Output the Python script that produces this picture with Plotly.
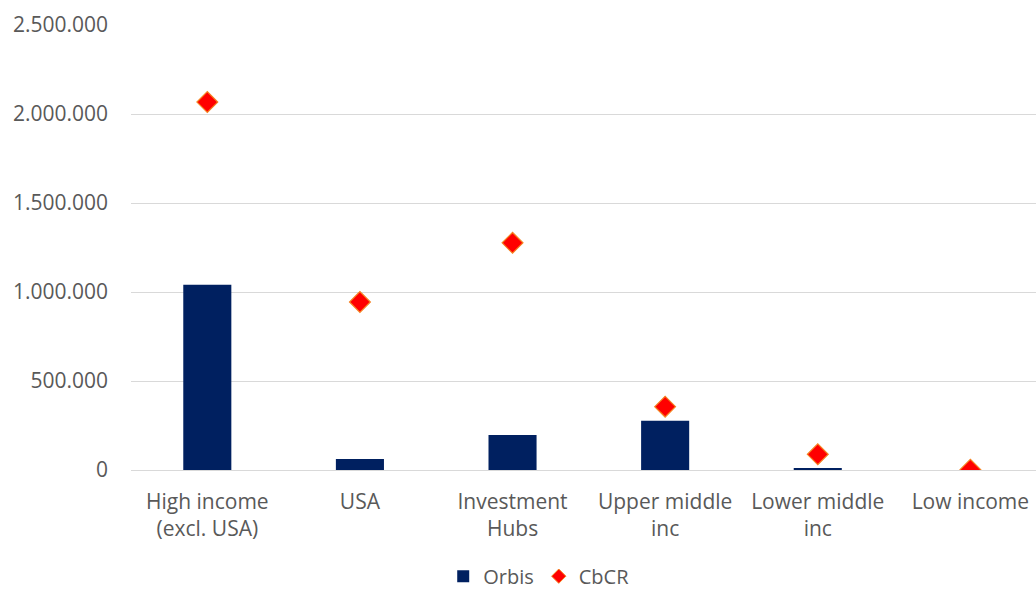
import plotly.graph_objects as go

categories = ["High income<br>(excl. USA)", "USA", "Investment<br>Hubs",
              "Upper middle<br>inc", "Lower middle<br>inc", "Low income"]
orbis = [1041000, 62000, 197000, 276000, 9000, 0]
cbcr = [2067000, 944000, 1276000, 356000, 88000, 1500]
y_ticks = [0, 500000, 1000000, 1500000, 2000000, 2500000]
y_tick_labels = ["0", "500.000", "1.000.000", "1.500.000", "2.000.000", "2.500.000"]

font = dict(family="Open Sans, Liberation Sans, sans-serif", size=21, color="#595959")
legend_font = dict(family="Open Sans, Liberation Sans, sans-serif", size=20, color="#595959")
x_pos = list(range(len(categories)))

fig = go.Figure()
fig.add_trace(go.Bar(
    x=x_pos, y=orbis, name="Orbis",
    marker=dict(color="#002060", line=dict(width=0)), width=0.315,
))
fig.add_trace(go.Scatter(
    x=x_pos, y=cbcr, name="CbCR", mode="markers", showlegend=False,
    marker=dict(symbol="diamond", size=16, color="#FF0000",
                line=dict(color="#F58220", width=1.2)),
))
# smaller diamond for the legend key
fig.add_trace(go.Scatter(
    x=[None], y=[None], name="CbCR", mode="markers",
    marker=dict(symbol="diamond", size=11, color="#FF0000",
                line=dict(color="#F58220", width=1)),
))

fig.update_layout(
    width=1036, height=594,
    margin=dict(l=131, r=0, t=25, b=124),
    paper_bgcolor="white", plot_bgcolor="white",
    font=font,
    showlegend=True,
    legend=dict(orientation="h", xref="container", x=0.52, xanchor="center",
                yref="container", y=0.03, yanchor="middle",
                font=legend_font, itemwidth=30, tracegroupgap=0),
)
fig.update_xaxes(
    tickmode="array", tickvals=x_pos, ticktext=categories,
    range=[-0.5, 5.43], showgrid=False, showline=False, zeroline=False,
    ticks="", ticklabelstandoff=17, tickfont=font,
)
fig.update_yaxes(
    range=[0, 2500000], tickmode="array", tickvals=y_ticks, ticktext=y_tick_labels,
    showgrid=True, gridcolor="#D9D9D9", gridwidth=1.3, zeroline=True,
    zerolinecolor="#D9D9D9", zerolinewidth=1.3, showline=False,
    ticks="", ticklabelstandoff=22, tickfont=font,
)

fig.write_html("out.html")
